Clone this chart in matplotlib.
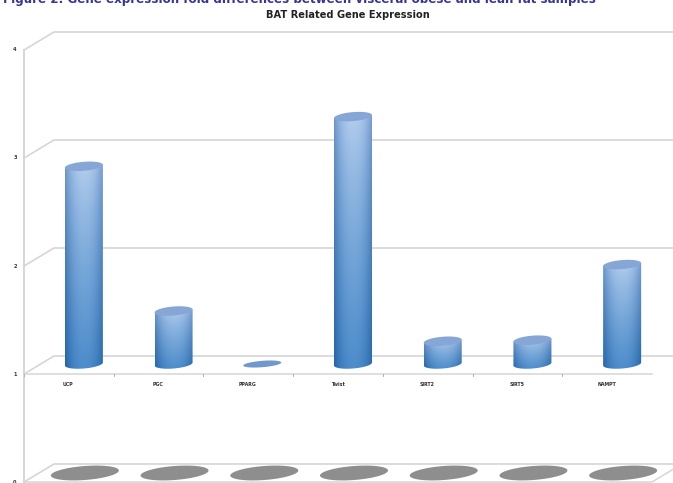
import numpy as np
import matplotlib
matplotlib.use("Agg")
import matplotlib.pyplot as plt
from matplotlib.patches import PathPatch
from matplotlib.path import Path

genes = ["UCP", "PGC", "PPARG", "Twist", "SIRT2", "SIRT5", "NAMPT"]
fold_change = [2.84, 1.50, 1.0, 3.30, 1.22, 1.23, 1.93]
y_ticks = [0, 1, 2, 3, 4]
base_value = 1

W, H = 673, 483
GRID = "#d6d6d6"

fig = plt.figure(figsize=(W / 100, H / 100), dpi=100)
ax = fig.add_axes([24 / W, 1 / H, 628 / W, 432 / H])
ax.axis("off")

# depth of the fake 3d box, in data units
dx = 30 / 89.7
dy = 18 / 108
half_w = 19 / 89.7
half_h = 4.5 / 108
tilt = 1.5 / 108


def ellipse_xy(cx, cy, a=half_w, b=half_h, k=tilt, n=80):
    t = np.linspace(0, 2 * np.pi, n)
    return cx + a * np.cos(t), cy + b * np.sin(t) + k * np.cos(t)


# walls and gridlines
for v in y_ticks:
    ax.plot([0, dx, 7 + dx], [v, v + dy, v + dy], color=GRID, lw=1.2, clip_on=False, zorder=1)
ax.plot([0, 0], [0, 4], color=GRID, lw=1.4, clip_on=False, zorder=1)
ax.plot([0, 7, 7 + dx], [0, 0, dy], color=GRID, lw=1.1, clip_on=False, zorder=1)
ax.plot([0, 7], [1, 1], color=GRID, lw=1.1, clip_on=False, zorder=2)

# category ticks on the value-1 line
for i in range(8):
    ax.plot([i, i], [1, 1 - 2 / 108], color="#b0b0b0", lw=0.7, zorder=2)

for v in y_ticks:
    ax.text(-9 / 89.7, v, str(v), fontsize=3.6, fontweight="bold", color="#333333",
            ha="center", va="center", clip_on=False)

c_top_mid = np.array([0xb4, 0xce, 0xee]) / 255
c_top_edge = np.array([0x70, 0x98, 0xce]) / 255
c_bot_mid = np.array([0x4c, 0x8c, 0xcb]) / 255
c_bot_edge = np.array([0x24, 0x64, 0xa8]) / 255

for i, (gene, val) in enumerate(zip(genes, fold_change)):
    cx = i + 0.5 + dx / 2
    cy0 = base_value + dy / 2 + 1 / 108
    cy1 = val + dy / 2

    # floor shadow
    sx, sy = ellipse_xy(cx + 1 / 89.7, dy / 2, a=34 / 89.7, b=7 / 108, k=2.5 / 108)
    ax.fill(sx, sy, color="#8e8e8e", lw=0, zorder=3, clip_on=False)

    ax.text(i + 0.5 - 0.005, 1 - 10 / 108, gene, fontsize=3.4, fontweight="bold", color="#333333",
            ha="center", va="center")

    if val <= base_value:
        ex, ey = ellipse_xy(cx - 1 / 89.7, cy0, b=3.2 / 108, k=1.5 / 108)
        ax.fill(ex, ey, color="#6f98cd", lw=0, zorder=4)
        continue

    # cylinder body with a two way gradient
    u = np.abs(np.linspace(-1, 1, 60))[None, :, None] ** 2.2
    w = np.linspace(0, 1, 100)[:, None, None] ** 0.8
    top = c_top_mid * (1 - u) + c_top_edge * u
    bot = c_bot_mid * (1 - u) + c_bot_edge * u
    img = top * (1 - w) + bot * w

    # outline: lower half of the base ellipse, closed across the top ellipse
    t = np.linspace(np.pi, 2 * np.pi, 40)
    fx = cx + half_w * np.cos(t)
    fy = cy0 + half_h * np.sin(t) + tilt * np.cos(t)
    verts = [(cx - half_w, cy1 - tilt)] + list(zip(fx, fy)) + \
            [(cx + half_w, cy1 + tilt), (cx - half_w, cy1 - tilt)]
    patch = PathPatch(Path(verts), fc="none", ec="none", transform=ax.transData)
    ax.add_patch(patch)
    im = ax.imshow(img, extent=[cx - half_w, cx + half_w, cy0 - half_h - tilt, cy1 + tilt],
                   aspect="auto", origin="upper", zorder=4, interpolation="bilinear")
    im.set_clip_path(patch)

    tx, ty = ellipse_xy(cx, cy1)
    ax.fill(tx, ty, color="#86a6d6", lw=0, zorder=5)

ax.set_xlim(0, 7)
ax.set_ylim(0, 4)

fig.text(348 / W, 1 - 15 / H, "BAT Related Gene Expression", fontsize=7.1, fontweight="bold",
         color="#222222", ha="center", va="center")
fig.text(3 / W, 1 + 1 / H, "Figure 2: Gene expression fold differences between visceral obese and lean fat samples",
         fontsize=8.55, fontweight="bold", color="#35359a", ha="left", va="center")

fig.savefig("out.png", dpi=100)
